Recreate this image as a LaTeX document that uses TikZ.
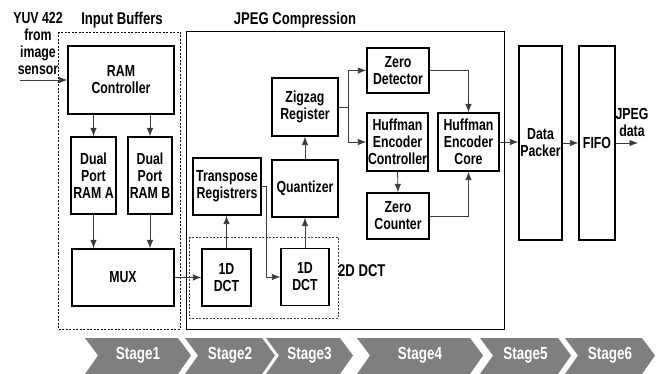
\documentclass[tikz,border=0pt]{standalone}
\usepackage{fontspec}
\setmainfont{Liberation Sans}[FakeStretch=0.77]
\usepackage{tikz}
\usetikzlibrary{arrows.meta, positioning, calc}

\definecolor{stagegray}{HTML}{7F7F7F}
\definecolor{wiregray}{HTML}{3A3A3A}

\begin{document}
\begin{tikzpicture}[
    x=1pt, y=-1pt,
    >={Latex[length=8.5pt,width=6.5pt]},
    font=\fontsize{16}{17}\selectfont\bfseries,
    blk/.style={draw=black, line width=1.3pt, align=center, inner sep=1pt},
    wire/.style={draw=wiregray, line width=0.8pt},
    arr/.style={wire, ->},
    grp/.style={draw=black, line width=0.7pt, dash pattern=on 2pt off 1.5pt},
    ttl/.style={font=\fontsize{17}{18}\selectfont\bfseries},
    stagetxt/.style={text=white, font=\fontsize{17.5}{18}\selectfont\bfseries}
]
\useasboundingbox (0,0) rectangle (656,374);

% ==========================================
% 1. Group frames and titles
% ==========================================
\draw[grp] (58,32) rectangle (180,329);               % Input Buffers
\draw[black, line width=1pt] (186,32) rectangle (504,329);   % JPEG Compression
\draw[grp, draw=black!75] (189,237) rectangle (338,318);      % 2D DCT

\node[ttl] (ttlBuf)  at (122,20) {Input Buffers};
\node[ttl] (ttlJpeg) at (295,20) {JPEG Compression};
\node[ttl, anchor=west, inner sep=0pt] (ttlDct) at (338,271) {2D DCT};

% ==========================================
% 2. Blocks
% ==========================================
\node[blk, minimum width=106, minimum height=68] (ramCtl)  at (121,80)    {RAM\\Controller};
\node[blk, minimum width=45,  minimum height=77] (ramA)    at (93.5,175.5) {Dual\\Port\\RAM A};
\node[blk, minimum width=44,  minimum height=77] (ramB)    at (150,175.5) {Dual\\Port\\RAM B};
\node[blk, minimum width=102, minimum height=57] (mux)     at (123,277.5) {MUX};

\node[blk, minimum width=49, minimum height=57] (dctA)    at (226.5,277.5) {1D\\DCT};
\node[blk, minimum width=48, minimum height=57] (dctB)    at (305,277)     {1D\\DCT};
\node[blk, minimum width=68, minimum height=57] (trans)   at (227,186.5)   {Transpose\\Registrers};
\node[blk, minimum width=66, minimum height=57] (quant)   at (305,188.5)   {Quantizer};
\node[blk, minimum width=66, minimum height=58] (zigzag)  at (305,107)     {Zigzag\\Register};

\node[blk, minimum width=62, minimum height=45] (zeroDet) at (398,70.5)    {Zero\\Detector};
\node[blk, minimum width=61, minimum height=58] (hufCtl)  at (397.5,142)   {Huffman\\Encoder\\Controller};
\node[blk, minimum width=61, minimum height=58] (hufCore) at (468.5,142)   {Huffman\\Encoder\\Core};
\node[blk, minimum width=62, minimum height=46] (zeroCnt) at (398,216)     {Zero\\Counter};

\node[blk, minimum width=43, minimum height=194] (packer)  at (540.5,143)  {Data\\Packer};
\node[blk, minimum width=36, minimum height=194] (fifo)    at (597,143)    {FIFO};

% Input / output labels
\node[align=center, inner sep=0pt] (yuvLbl)  at (38,43)  {YUV 422\\from\\image\\sensor};
\node[align=center, inner sep=0pt] (jpegLbl) at (632,122) {JPEG\\data};
\coordinate (yuvIn)   at (20,80);
\coordinate (jpegOut) at (638,143);

% ==========================================
% 3. Connectors
% ==========================================
\draw[arr] (yuvIn) -- (ramCtl.west);
\draw[arr] (ramCtl.south -| ramA) -- (ramA.north);
\draw[arr] (ramCtl.south -| ramB) -- (ramB.north);
\draw[arr] (ramA.south) -- (mux.north -| ramA);
\draw[arr] (ramB.south) -- (mux.north -| ramB);
\draw[arr] (mux.east) -- (dctA.west);

\draw[arr] (dctA.north) -- (dctA.north |- trans.south);
\draw[arr] (trans.east) -- ++(5,0) |- (dctB.west);
\draw[arr] (dctB.north) -- (quant.south);
\draw[arr] (quant.north) -- (zigzag.south);

\draw[wire] (zigzag.east) -- ++(10,0) coordinate (zzSplit);
\draw[arr] (zzSplit) |- (zeroDet.west);
\draw[arr] (zzSplit) |- (hufCtl.west);

\draw[arr] (zeroDet.east) -| (hufCore.north);
\draw[arr] (hufCtl.south) -- (zeroCnt.north);
\draw[arr] (zeroCnt.east) -| (hufCore.south);

\draw[arr] (hufCore.east) -- (packer.west |- hufCore.east);
\draw[arr] (packer.east) -- (fifo.west);
\draw[arr] (fifo.east) -- (jpegOut);

% ==========================================
% 4. Pipeline stages
% ==========================================
\foreach \L/\R/\name in {85/178/Stage1, 185/262/Stage2, 266/340/Stage3,
                         357/470/Stage4, 480/558/Stage5, 565/642/Stage6} {
    \fill[stagegray] (\L,338) -- (\R,338) -- (\R+13,355.5) -- (\R,374)
        -- (\L,374) -- (\L+13,355.5) -- cycle;
    \node[stagetxt] (\name) at ({(\L+\R+13)/2},355.5) {\name};
}

\end{tikzpicture}
\end{document}
